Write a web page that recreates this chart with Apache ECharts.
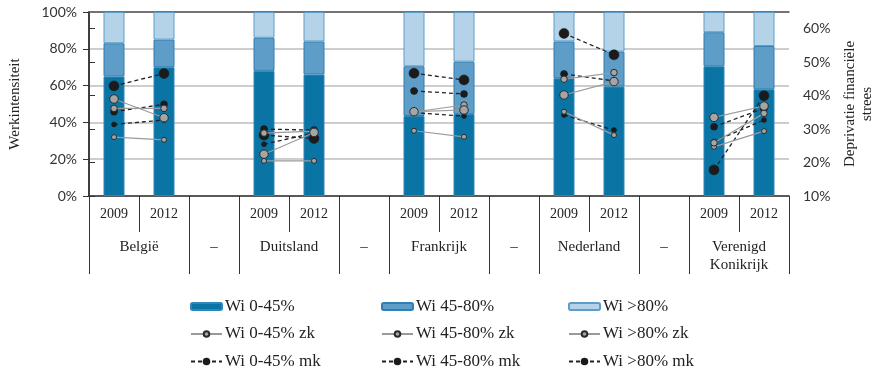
<!DOCTYPE html>
<html>
<head>
<meta charset="utf-8">
<script src="https://cdn.jsdelivr.net/npm/echarts@6/dist/echarts.min.js"></script>
<style>
html,body{margin:0;padding:0;background:#fff;}
#c{width:889px;height:369px;}
</style>
</head>
<body>
<div id="c"></div>
<script>
// categories (14 slots, empty slots are separators)
var categories = ['2009','2012','','2009','2012','','2009','2012','','2009','2012','','2009','2012'];
var countryLabels = {1:'België', 2.5:'–', 4:'Duitsland', 5.5:'–', 7:'Frankrijk', 8.5:'–', 10:'Nederland', 11.5:'–', 13:'Verenigd\nKonikrijk'};
var leftTicks = [0,20,40,60,80,100];
var rightTicks = [10,20,30,40,50,60];

// Werkintensiteit shares (stacked bars, left axis)
var wi045  = [65, 70, null, 68, 66, null, 43.5, 44.5, null, 64, 59.5, null, 70.5, 58];
var wi4580 = [18, 15, null, 18, 18, null, 27, 28.5, null, 20, 19, null, 18.5, 23.5];
var wi80   = [17, 15, null, 14, 16, null, 29.5, 27, null, 16, 21.5, null, 11, 18.5];

// Deprivatie financiële stress (right axis)
var zk045  = [27.6, 26.8, null, 20.5, 20.5, null, 29.5, 27.7, null, 35.2, 28.2, null, 24.7, 29.4];
var zk4580 = [36.2, 36.2, null, 28.8, 29.4, null, 35.1, 37.2, null, 44.9, 46.9, null, 25.9, 34.7];
var zk80   = [39.0, 33.4, null, 22.5, 29.0, null, 35.2, 35.7, null, 40.2, 44.2, null, 33.5, 36.9];
var mk045  = [31.4, 32.7, null, 25.5, 28.8, null, 34.9, 33.9, null, 34.2, 29.7, null, 26.3, 32.7];
var mk4580 = [35.2, 37.4, null, 30.0, 29.7, null, 41.4, 40.5, null, 46.5, 44.4, null, 30.7, 36.2];
var mk80   = [42.9, 46.6, null, 28.2, 27.2, null, 46.7, 44.7, null, 58.6, 52.2, null, 17.8, 40.0];

var serif = 'Liberation Serif';
var sans = 'Lato';
var dark = '#0a75a5', mid = '#5e9dc8', light = '#b5d3e8';

function bar(name, data, color, border) {
  return {name: name, type: 'bar', stack: 'wi', data: data, barWidth: 21,
    itemStyle: {color: color, borderColor: border, borderWidth: 1}, z: 2};
}
function zk(name, data, size) {
  return {name: name, type: 'line', yAxisIndex: 1, data: data, symbol: 'circle', symbolSize: size,
    connectNulls: false, z: 5,
    itemStyle: {color: '#a5a5a5', borderColor: '#2b2b2b', borderWidth: 1},
    lineStyle: {color: '#9a9a9a', width: 1.2}};
}
function mk(name, data, size) {
  return {name: name, type: 'line', yAxisIndex: 1, data: data, symbol: 'circle', symbolSize: size,
    connectNulls: false, z: 4,
    itemStyle: {color: '#1b1b1b', borderColor: '#1b1b1b', borderWidth: 0.5},
    lineStyle: {color: '#222', width: 1.3, type: [4, 3]}};
}

var legendCommon = {orient: 'vertical', top: 298, height: 100, itemWidth: 31, itemHeight: 7, itemGap: 10.5,
  textStyle: {fontFamily: serif, fontSize: 17, color: '#222', padding: [0,0,0,-2]}, padding: 0};

var chart = echarts.init(document.getElementById('c'), null, {renderer: 'canvas'});
chart.setOption({
  animation: false,
  backgroundColor: '#fff',
  grid: {left: 88, right: 100, top: 12, bottom: 173},
  legend: [
    Object.assign({left: 190, data: ['Wi 0-45%', 'Wi 0-45% zk', 'Wi 0-45% mk']}, legendCommon),
    Object.assign({left: 381, data: ['Wi 45-80%', 'Wi 45-80% zk', 'Wi 45-80% mk']}, legendCommon),
    Object.assign({left: 568, data: ['Wi >80%', 'Wi >80% zk', 'Wi >80% mk']}, legendCommon)
  ],
  xAxis: [
    {type: 'category', data: categories, position: 'bottom', boundaryGap: true,
      axisLine: {show: true, lineStyle: {color: '#333', width: 1.5}},
      axisTick: {show: true, interval: 0, length: 36, lineStyle: {color: '#333', width: 1}},
      axisLabel: {interval: 0, margin: 11, fontFamily: serif, fontSize: 14, color: '#222'},
      splitLine: {show: false}},
    {type: 'value', min: 0, max: 14, position: 'bottom',
      axisLine: {show: false},
      axisTick: {show: true, length: 78, customValues: [0,2,3,5,6,8,9,11,12,14], lineStyle: {color: '#333', width: 1}},
      axisLabel: {show: true, margin: 42, customValues: [1,2.5,4,5.5,7,8.5,10,11.5,13],
        formatter: function (v) { return countryLabels[v] || ''; },
        fontFamily: serif, fontSize: 15, color: '#222', lineHeight: 18},
      splitLine: {show: false}},
    {type: 'value', min: 0, max: 14, position: 'top',
      axisLine: {show: true, lineStyle: {color: '#555', width: 1.5}},
      axisTick: {show: false}, axisLabel: {show: false}, splitLine: {show: false}}
  ],
  yAxis: [
    {type: 'value', min: 0, max: 100, interval: 20, position: 'left',
      name: 'Werkintensiteit', nameLocation: 'middle', nameGap: 66, nameRotate: 90,
      nameTextStyle: {fontFamily: serif, fontSize: 15, color: '#222'},
      axisLine: {show: true, lineStyle: {color: '#333', width: 1.5}},
      axisTick: {show: true, length: 6, lineStyle: {color: '#333'}},
      axisLabel: {formatter: '{value}%', margin: 12, fontFamily: sans, fontSize: 14, color: '#333',
        customValues: leftTicks},
      splitLine: {show: true, lineStyle: {color: '#bdbdbd', width: 1.5}}},
    {type: 'value', min: 10, max: 65, position: 'right',
      name: 'Deprivatie financiële\nstrees', nameLocation: 'middle', nameGap: 50, nameRotate: 90,
      nameTextStyle: {fontFamily: serif, fontSize: 15, color: '#222', lineHeight: 17, align: 'center'},
      axisLine: {show: true, lineStyle: {color: '#333', width: 1.5}},
      axisTick: {show: true, length: 6, customValues: rightTicks, lineStyle: {color: '#333'}},
      axisLabel: {formatter: '{value}%', margin: 14, fontFamily: sans, fontSize: 14, color: '#333',
        customValues: rightTicks},
      splitLine: {show: false}}
  ],
  series: [
    bar('Wi 0-45%', wi045, dark, '#2f86b8'),
    bar('Wi 45-80%', wi4580, mid, '#2f7fb2'),
    bar('Wi >80%', wi80, light, '#5e9dc8'),
    mk('Wi 0-45% mk', mk045, 5),
    mk('Wi 45-80% mk', mk4580, 7),
    mk('Wi >80% mk', mk80, 10),
    zk('Wi 0-45% zk', zk045, 5),
    zk('Wi 45-80% zk', zk4580, 6.5),
    zk('Wi >80% zk', zk80, 8.5)
  ]
});
</script>
</body>
</html>
